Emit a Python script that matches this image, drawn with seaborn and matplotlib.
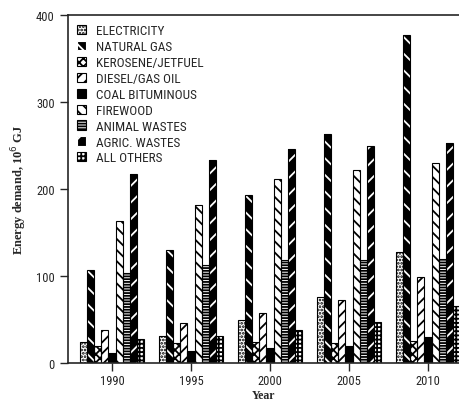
import pandas as pd
import matplotlib.pyplot as plt
import seaborn as sns
from matplotlib.patches import Patch, Rectangle

# data (10^6 GJ)
years = ['1990', '1995', '2000', '2005', '2010']
fuels = ['ELECTRICITY', 'NATURAL GAS', 'KEROSENE/JETFUEL', 'DIESEL/GAS OIL',
         'COAL BITUMINOUS', 'FIREWOOD', 'ANIMAL WASTES', 'AGRIC. WASTES', 'ALL OTHERS']
electricity = [24, 31, 49, 76, 128]
natural_gas = [107, 130, 193, 263, 377]
kerosene = [20, 23, 24, 23, 25]
diesel = [38, 46, 58, 72, 99]
coal = [12, 14, 17, 20, 30]
firewood = [163, 182, 211, 222, 230]
animal_wastes = [104, 113, 118, 118, 119]
agric_wastes = [217, 233, 246, 249, 253]
all_others = [28, 31, 38, 47, 65]
series = [electricity, natural_gas, kerosene, diesel, coal, firewood,
          animal_wastes, agric_wastes, all_others]

rows = []
for fuel, vals in zip(fuels, series):
    for yr, v in zip(years, vals):
        rows.append({'year': yr, 'fuel': fuel, 'demand': v})
df = pd.DataFrame(rows)

# (face, hatch colour, hatch) per fuel
styles = [
    ('white', 'black', '.....'),
    ('black', 'white', '\\\\'),
    ('white', 'black', 'xxxx'),
    ('white', 'black', '///'),
    ('black', 'black', ''),
    ('white', 'black', '\\\\\\'),
    ('white', 'black', '------'),
    ('black', 'white', '//'),
    ('white', 'black', '++++'),
]

sns.set_style('ticks')
plt.rcParams['hatch.linewidth'] = 1.3
plt.rcParams['font.family'] = ['Roboto Condensed', 'DejaVu Sans']
serif = ['Liberation Serif', 'DejaVu Serif']

fig, ax = plt.subplots(figsize=(4.6, 4.02), dpi=100)
fig.subplots_adjust(left=68/460, right=1.0, top=1-16/402, bottom=1-364/402)

sns.barplot(data=df, x='year', y='demand', hue='fuel', hue_order=fuels,
            palette=['white'] * len(fuels), width=0.82, legend=False,
            saturation=1, ax=ax)

for cont, (face, hc, hatch) in zip(ax.containers, styles):
    for p in cont.patches:
        p.set_facecolor(face)
        p.set_edgecolor(hc)
        p.set_hatch(hatch)
        p.set_linewidth(0)
        ax.add_patch(Rectangle(p.get_xy(), p.get_width(), p.get_height(),
                               fill=False, edgecolor='black', linewidth=0.8))

ax.set_xlim(-0.557, 4.405)
ax.set_ylim(0, 400)
ax.set_yticks([0, 100, 200, 300, 400])
ax.tick_params(axis='both', labelsize=9, length=6, width=1, direction='out')
ax.tick_params(axis='x', pad=2)
for s in ['left', 'bottom', 'top']:
    ax.spines[s].set_visible(True)
    ax.spines[s].set_linewidth(1.2)
ax.spines['right'].set_visible(False)

ax.set_xlabel('Year', family=serif, fontsize=8.5, fontweight='bold')
ax.xaxis.set_label_coords(0.5, -0.075)
ax.set_ylabel('Energy demand, 10$^6$ GJ', family=serif, fontsize=9,
              fontweight='bold', labelpad=5)

handles = []
for face, hc, hatch in styles:
    handles.append(Patch(facecolor=face, edgecolor=hc, hatch=hatch, linewidth=0.8))
ax.legend(handles, fuels, loc='upper left', bbox_to_anchor=(0.0, 1.0),
          frameon=False, fontsize=9.5, handlelength=0.7, handleheight=0.7,
          handletextpad=0.7, labelspacing=0.22, borderaxespad=0.3)

plt.savefig('out.png', dpi=100)
